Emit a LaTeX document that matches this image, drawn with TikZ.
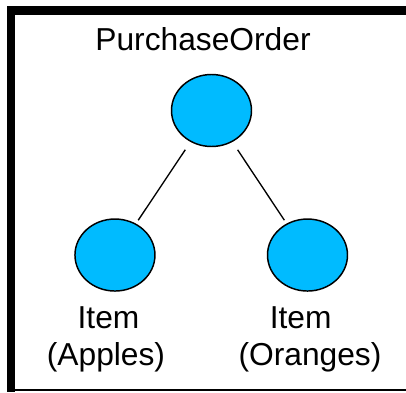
\documentclass[tikz,border=0pt]{standalone}
\usepackage{fontspec}
\setmainfont{Liberation Sans}
\usetikzlibrary{positioning, shapes.geometric}
\definecolor{classblue}{RGB}{0,187,255}

\begin{document}
\begin{tikzpicture}[x=0.75pt, y=-0.75pt,
  cls/.style={ellipse, draw=black, line width=1.1pt, fill=classblue,
              minimum width=60pt, minimum height=54pt, inner sep=0pt},
  txt/.style={font=\fontsize{23.8pt}{28pt}\selectfont, inner sep=0pt, anchor=base},
  link/.style={line width=1pt, shorten <=7pt, shorten >=3pt}
]
\useasboundingbox (0,0) rectangle (406,392);
% frame
\fill (7,6) rectangle (406,15);
\fill (7,6) rectangle (15,392);
\fill (15,389.3) rectangle (406,391);

\node[cls] (po) at (211.5,110.5) {};
\node[cls, on grid, below left=108.4pt and 72.4pt of po] (apples) {};
\node[cls, on grid, right=144.4pt of apples] (oranges) {};

\node[txt] (poname)    at (203,51)    {PurchaseOrder};
\node[txt] (itema)     at (108.5,328) {Item};
\node[txt] (applesname) at (106,365)  {(Apples)};
\node[txt] (itemo)     at (300.7,328) {Item};
\node[txt] (orangesname) at (310,365) {(Oranges)};

\draw[link] (po) -- (apples);
\draw[link] (po) -- (oranges);
\end{tikzpicture}
\end{document}
